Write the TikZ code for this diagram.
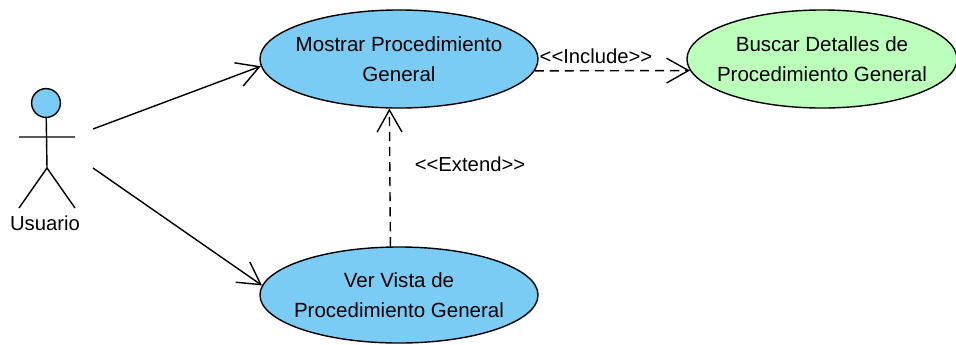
\documentclass[tikz,border=0pt]{standalone}
\usepackage{fontspec}
\setmainfont{Liberation Sans}
\usetikzlibrary{arrows.meta,shapes.geometric}
\tikzset{
	usecase/.style={draw,shape=ellipse,line width=1pt,inner xsep=-50pt,inner ysep=-20pt,align=center,font=\fontsize{14.6}{21}\selectfont},
	azul/.style={fill=azulcaso},
	verde/.style={fill=verdecaso},
	assoc/.style={line width=1pt,-{Straight Barb[length=5.5mm,width=6.2mm,line width=1pt]}},
	depend/.style={assoc,dash pattern=on 6.5pt off 4.2pt},
	etiqueta/.style={inner sep=0,font=\fontsize{14.4}{18}\selectfont}
}
\definecolor{azulcaso}{HTML}{7ACCF5}
\definecolor{verdecaso}{HTML}{BBFFBB}
\begin{document}
\begin{tikzpicture}[x=.025cm,y=-.025cm]
\useasboundingbox (0,0) rectangle (956,344);
\node[usecase,azul,minimum width=6.95cm,minimum height=2.45cm] (mostrar) at (399,59) {Mostrar Procedimiento\\General};
\node[usecase,verde,minimum width=6.75cm,minimum height=2.45cm] (buscar) at (822,59) {Buscar Detalles de\\Procedimiento General};
\node[usecase,azul,minimum width=6.95cm,minimum height=2.4cm] (ver) at (399,295) {Ver Vista de\\Procedimiento General};
\node[draw,circle,azul,line width=1pt,inner sep=0,minimum size=.72cm] (cabeza) at (46,103) {};
\coordinate (cadera) at (47,168);
\coordinate (brazoI) at (19,137);
\coordinate (brazoD) at (75,137);
\coordinate (pieI) at (19,208);
\coordinate (pieD) at (75,208);
\draw[line width=1pt] (cabeza)--(cadera) (brazoI)--(brazoD) (pieI)--(cadera)--(pieD);
\node[etiqueta] (usuario) at (45,223) {Usuario};
\coordinate (salidaA) at (93,129);
\coordinate (salidaB) at (93,168);
\draw[assoc] (salidaA)--(mostrar.183.8);
\draw[assoc] (salidaB)--(ver.176.7);
\draw[depend] (ver.100.6)--(mostrar.259.6);
\draw[depend] (mostrar.355.3)--(buscar.185);
\node[etiqueta] (include) at (596,56) {<{}<Include>{}>};
\node[etiqueta] (extend) at (470,164) {<{}<Extend>{}>};
\end{tikzpicture}
\end{document}
